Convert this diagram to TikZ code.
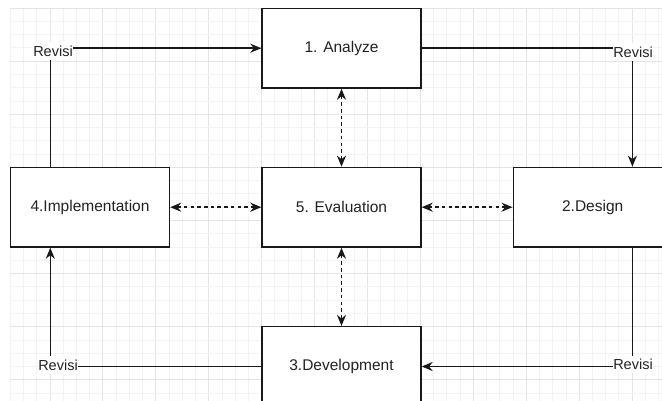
\documentclass[tikz,border=0pt]{standalone}
\usepackage{fontspec}
\setmainfont{Liberation Sans}
\usetikzlibrary{arrows.meta}
\definecolor{minorgrid}{HTML}{F3F3F3}
\definecolor{majorgrid}{HTML}{E4E4E4}
\definecolor{txt}{HTML}{222222}
\tikzset{
  stepbox/.style={draw=black!90, line width=1.5pt, fill=white, minimum width=158.8pt, minimum height=79.6pt, inner sep=0pt, text=txt, font=\fontsize{15.5}{18}\selectfont},
  conn/.style={draw=black!90, line width=1.5pt, -{Stealth[length=11pt,width=9pt,inset=3.5pt]}},
  dconn/.style={draw=black!90, line width=1.5pt, dash pattern=on 3.5pt off 3.2pt, {Stealth[length=11pt,width=9pt,inset=3.5pt]}-{Stealth[length=11pt,width=9pt,inset=3.5pt]}},
  rev/.style={fill=white, inner xsep=0.5pt, inner ysep=3.5pt, text=txt, font=\fontsize{14.5}{17}\selectfont}
}
\begin{document}
\begin{tikzpicture}[x=1pt,y=-1pt]
\useasboundingbox (0,0) rectangle (662,401);
\clip (0,0) rectangle (662,401);
\fill[white] (0,0) rectangle (662,401);
% grid
\foreach \i in {0,...,49} {
  \pgfmathsetmacro{\xx}{10.3+13.23*\i}
  \pgfmathtruncatemacro{\m}{mod(\i,4)}
  \ifnum\m=3
    \draw[majorgrid, line width=0.9pt] (\xx,8) -- (\xx,401);
  \else
    \draw[minorgrid, line width=0.9pt] (\xx,8) -- (\xx,401);
  \fi
}
\foreach \j in {0,...,29} {
  \pgfmathsetmacro{\yy}{8+13.28*\j}
  \pgfmathtruncatemacro{\m}{mod(\j,4)}
  \ifnum\m=0
    \draw[majorgrid, line width=0.9pt] (10.3,\yy) -- (662,\yy);
  \else
    \draw[minorgrid, line width=0.9pt] (10.3,\yy) -- (662,\yy);
  \fi
}
% boxes
\node[stepbox] (A) at (341.5,48.2) {1. Analyze};
\node[stepbox] (E) at (341.5,207.2) {5. Evaluation};
\node[stepbox] (I) at (90,207.2) {4.Implementation};
\node[stepbox] (D) at (592.7,207.2) {2.Design};
\node[stepbox] (V) at (341.5,366.5) {3.Development};
% corner columns
\coordinate (cl) at (50.3,0);
\coordinate (cr) at (632.4,0);
% revision loops
\draw[conn] (I.north -| cl) |- (A.west);
\draw[conn] (A.east) -| (D.north -| cr);
\draw[conn] (D.south -| cr) |- (V.east);
\draw[conn] (V.west) -| (I.south -| cl);
\node[rev] (r1) at (53,51) {Revisi};
\node[rev] (r2) at (633,52) {Revisi};
\node[rev] (r3) at (633,364.5) {Revisi};
\node[rev] (r4) at (58,365) {Revisi};
% evaluation links
\draw[dconn] (A.south) -- (E.north);
\draw[dconn] (E.west) -- (I.east);
\draw[dconn] (E.east) -- (D.west);
\draw[dconn] (E.south) -- (V.north);
\end{tikzpicture}
\end{document}
